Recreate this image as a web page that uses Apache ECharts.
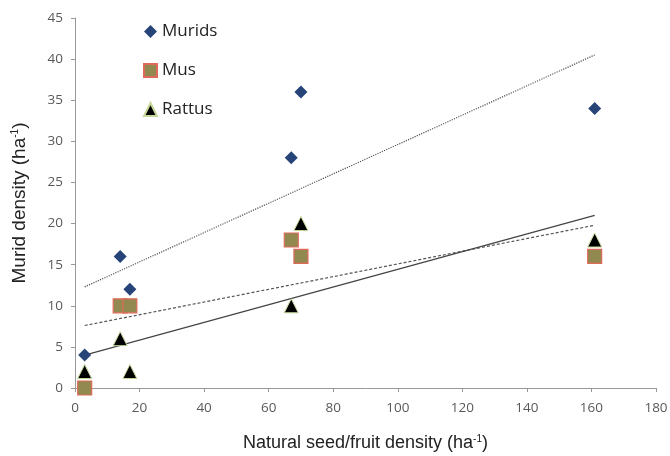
<!DOCTYPE html>
<html><head><meta charset="utf-8">
<script src="https://cdn.jsdelivr.net/npm/echarts@6/dist/echarts.min.js"></script>
<style>html,body{margin:0;padding:0;background:#fff}#c{width:670px;height:456px}</style>
</head><body><div id="c"></div>
<script>
var seedDensity = [3, 14, 17, 67, 70, 161];
var murids = [4, 16, 12, 28, 36, 34];
var mus = [0, 10, 10, 18, 16, 16];
var rattus = [2, 6, 2, 10, 20, 18];
var trendX = [3, 161];
var muridsTrend = [12.3, 40.5];
var musTrend = [7.6, 19.8];
var rattusTrend = [4.0, 21.0];
var xTicks = [0, 20, 40, 60, 80, 100, 120, 140, 160, 180];
var yTicks = [0, 5, 10, 15, 20, 25, 30, 35, 40, 45];

function pairs(xs, ys){ return xs.map(function(x,i){ return [x, ys[i]]; }); }
var font = 'Liberation Sans, Arial, sans-serif';
var chart = echarts.init(document.getElementById('c'));
chart.setOption({
  animation: false,
  backgroundColor: '#fff',
  grid: {left: 75, right: 14, top: 18, bottom: 68, containLabel: false, outerBoundsMode: 'none'},
  legend: {
    data: ['Murids', 'Mus', 'Rattus'],
    orient: 'vertical', left: 138, top: 18, itemGap: 22,
    itemWidth: 13, itemHeight: 13,
    textStyle: {fontFamily: 'Open Sans, sans-serif', fontSize: 17, color: '#222'}
  },
  xAxis: {
    type: 'value', min: 0, max: 180, interval: 20,
    name: 'Natural seed/fruit density (ha{sup|-1})',
    nameLocation: 'middle', nameGap: 46,
    nameTextStyle: {fontFamily: font, fontSize: 18, color: '#222',
      rich: {sup: {fontSize: 10, verticalAlign: 'top', padding: [0,0,9,0], fontFamily: font, color: '#222'}}},
    axisLine: {lineStyle: {color: '#999'}},
    axisTick: {show: true, inside: false, length: 4, lineStyle: {color: '#999'}},
    axisLabel: {fontFamily: 'Open Sans, sans-serif', fontSize: 13.5, color: '#595959', margin: 13,
      formatter: function(v){ return xTicks.indexOf(v) >= 0 ? String(v) : ''; }},
    splitLine: {show: false}
  },
  yAxis: {
    type: 'value', min: 0, max: 45, interval: 5,
    name: 'Murid density (ha{sup|-1})',
    nameLocation: 'middle', nameGap: 46, nameRotate: 90,
    nameTextStyle: {fontFamily: font, fontSize: 19, color: '#222',
      rich: {sup: {fontSize: 10, verticalAlign: 'top', padding: [0,0,9,0], fontFamily: font, color: '#222'}}},
    axisLine: {show: true, lineStyle: {color: '#999'}},
    axisTick: {show: true, inside: false, length: 4, lineStyle: {color: '#999'}},
    axisLabel: {fontFamily: 'Open Sans, sans-serif', fontSize: 13.5, color: '#595959', margin: 12,
      formatter: function(v){ return yTicks.indexOf(v) >= 0 ? String(v) : ''; }},
    splitLine: {show: false}
  },
  series: [
    {name: 'MuridsTrend', type: 'line', data: pairs(trendX, muridsTrend), symbol: 'none', silent: true,
      lineStyle: {color: '#555', width: 1.2, type: [1.2, 1.2]}, z: 1},
    {name: 'MusTrend', type: 'line', data: pairs(trendX, musTrend), symbol: 'none', silent: true,
      lineStyle: {color: '#555', width: 1.2, type: [3, 2]}, z: 1},
    {name: 'RattusTrend', type: 'line', data: pairs(trendX, rattusTrend), symbol: 'none', silent: true,
      lineStyle: {color: '#444', width: 1.2, type: 'solid'}, z: 1},
    {name: 'Murids', type: 'scatter', data: pairs(seedDensity, murids), symbol: 'diamond', symbolSize: 13,
      itemStyle: {color: '#264478', opacity: 1}, z: 3},
    {name: 'Mus', type: 'scatter', data: pairs(seedDensity, mus), symbol: 'rect', symbolSize: 14,
      itemStyle: {color: '#918950', borderColor: '#E06A5A', borderWidth: 1.2, opacity: 1}, z: 3},
    {name: 'Rattus', type: 'scatter', data: pairs(seedDensity, rattus), symbol: 'triangle', symbolSize: 14,
      itemStyle: {color: '#000', borderColor: '#C6D89A', borderWidth: 1, opacity: 1}, z: 4}
  ]
});
</script></body></html>
